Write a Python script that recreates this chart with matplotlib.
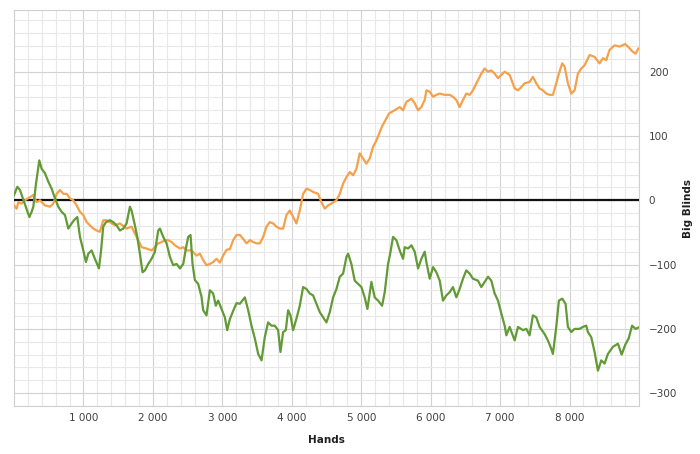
import matplotlib
matplotlib.use("Agg")
import matplotlib.pyplot as plt
from matplotlib.ticker import MultipleLocator, FixedLocator, FuncFormatter

# hands / big blinds
green_hands = [0, 48, 86, 144, 221, 254, 278, 317, 364, 398, 446, 494, 542, 590, 638, 686, 734, 782, 830, 863,
               911, 950, 998, 1036, 1070, 1117, 1165, 1223, 1252, 1285, 1324, 1381, 1429, 1477, 1525, 1573, 1621,
               1669, 1693, 1741, 1775, 1813, 1851, 1885, 1933, 1981, 2029, 2077, 2101, 2149, 2197, 2245, 2293,
               2341, 2389, 2437, 2470, 2508, 2542, 2571, 2604, 2652, 2700, 2724, 2772, 2820, 2868, 2906, 2940,
               2988, 3036, 3070, 3108, 3156, 3204, 3252, 3324, 3372, 3420, 3468, 3516, 3564, 3611, 3659, 3707,
               3755, 3803, 3837, 3875, 3914, 3947, 3981, 4019, 4067, 4115, 4163, 4211, 4259, 4307, 4355, 4403,
               4451, 4499, 4547, 4595, 4643, 4691, 4739, 4787, 4811, 4858, 4906, 4954, 5002, 5050, 5089, 5146,
               5194, 5242, 5300, 5338, 5386, 5420, 5458, 5506, 5554, 5602, 5626, 5674, 5722, 5770, 5818, 5866,
               5914, 5938, 5986, 6034, 6082, 6130, 6177, 6225, 6273, 6321, 6369, 6417, 6465, 6513, 6561, 6609,
               6681, 6729, 6777, 6825, 6873, 6921, 6969, 7017, 7065, 7089, 7137, 7209, 7257, 7329, 7377, 7424,
               7472, 7520, 7568, 7640, 7688, 7736, 7760, 7808, 7846, 7894, 7942, 7976, 8024, 8072, 8144, 8192,
               8240, 8264, 8312, 8360, 8408, 8456, 8504, 8552, 8624, 8696, 8750, 8800, 8850, 8900, 8950, 8990]
green_bb = [8, 21, 16, -2, -26, -18, -10, 26, 62, 49, 42, 29, 18, 3, -10, -18, -23, -44, -36, -31,
            -26, -57, -78, -96, -83, -78, -91, -106, -80, -41, -34, -31, -34, -39, -47, -44, -36,
            -10, -16, -39, -57, -83, -112, -109, -99, -91, -80, -47, -44, -57, -67, -88, -101,
            -99, -106, -99, -78, -57, -54, -99, -124, -130, -150, -171, -179, -140, -145, -164, -156,
            -169, -182, -202, -185, -172, -160, -161, -151, -171, -195, -215, -239, -249, -213, -190, -195,
            -195, -202, -236, -205, -202, -171, -179, -202, -184, -164, -135, -138, -145, -148, -161, -174,
            -182, -190, -174, -151, -138, -119, -114, -88, -83, -99, -125, -130, -135, -151, -169, -127,
            -151, -156, -164, -143, -99, -81, -57, -62, -78, -91, -73, -75, -70, -80, -106, -91,
            -80, -96, -122, -104, -112, -125, -156, -148, -143, -135, -151, -138, -122, -109, -114, -122,
            -125, -135, -127, -119, -125, -145, -156, -176, -195, -210, -197, -218, -197, -202, -200, -210,
            -179, -182, -197, -208, -218, -231, -239, -197, -156, -153, -161, -197, -205, -200, -200, -197,
            -195, -205, -213, -236, -265, -249, -254, -239, -228, -223, -240, -225, -215, -195, -200, -198]

orange_hands = [0, 38, 62, 110, 158, 230, 278, 326, 374, 446, 518, 566, 614, 662, 710, 758, 806, 854, 902,
                950, 998, 1046, 1094, 1141, 1189, 1237, 1285, 1333, 1381, 1453, 1525, 1621, 1693, 1741, 1789,
                1837, 1909, 1981, 2029, 2077, 2125, 2173, 2221, 2269, 2317, 2389, 2437, 2485, 2557, 2629, 2676,
                2724, 2772, 2820, 2868, 2916, 2964, 3012, 3060, 3108, 3156, 3204, 3252, 3300, 3348, 3396, 3444,
                3492, 3540, 3588, 3636, 3683, 3731, 3779, 3827, 3875, 3923, 3971, 4019, 4067, 4115, 4163, 4211,
                4259, 4307, 4379, 4427, 4475, 4523, 4571, 4643, 4691, 4739, 4787, 4835, 4883, 4931, 4978, 5026,
                5074, 5122, 5170, 5218, 5300, 5400, 5480, 5554, 5602, 5650, 5722, 5770, 5818, 5866, 5914, 5938,
                5986, 6034, 6082, 6130, 6201, 6273, 6321, 6369, 6417, 6465, 6513, 6561, 6609, 6681, 6729, 6777,
                6825, 6873, 6921, 6969, 7017, 7065, 7137, 7209, 7257, 7305, 7353, 7424, 7472, 7520, 7568, 7616,
                7664, 7712, 7760, 7808, 7846, 7894, 7928, 7976, 8024, 8072, 8120, 8168, 8216, 8288, 8360, 8432,
                8480, 8528, 8576, 8648, 8720, 8800, 8850, 8900, 8950, 8990]
orange_bb = [-8, -13, -3, -5, 0, 5, 8, -3, 0, -8, -10, -5, 10, 16, 10, 10, 3, 0, -8,
             -18, -23, -34, -39, -44, -47, -49, -31, -31, -34, -39, -36, -44, -41, -52, -62,
             -73, -75, -78, -73, -67, -65, -62, -62, -65, -70, -75, -73, -78, -78, -86, -83,
             -93, -101, -99, -96, -91, -97, -86, -77, -76, -62, -54, -54, -60, -67, -62, -65,
             -67, -67, -57, -41, -34, -36, -41, -44, -44, -23, -16, -26, -36, -16, 10, 18,
             16, 13, 10, -3, -13, -8, -5, 0, 10, 26, 36, 44, 39, 49, 73, 65,
             57, 65, 83, 93, 115, 135, 140, 145, 140, 153, 158, 151, 140, 145, 156, 171,
             169, 161, 164, 166, 164, 164, 161, 156, 145, 156, 166, 164, 171, 187, 197, 205,
             200, 202, 197, 190, 195, 200, 195, 174, 171, 176, 182, 184, 192, 182, 174, 171,
             166, 164, 164, 182, 197, 213, 208, 182, 166, 171, 197, 205, 210, 226, 223, 213,
             221, 218, 234, 241, 239, 243, 238, 232, 228, 236]

x_ticks = [1000, 2000, 3000, 4000, 5000, 6000, 7000, 8000]
y_ticks = [-300, -200, -100, 0, 100, 200]

fig = plt.figure(figsize=(7, 4.54), dpi=100)
ax = fig.add_axes([0.02, 0.1057, 0.8929, 0.8723])

ax.set_xlim(0, 9000)
ax.set_ylim(-320, 296)

ax.xaxis.set_minor_locator(MultipleLocator(200))
ax.yaxis.set_minor_locator(MultipleLocator(20))
ax.xaxis.set_major_locator(FixedLocator(x_ticks))
ax.yaxis.set_major_locator(FixedLocator(y_ticks))
ax.grid(which='minor', color='#e8e8e8', lw=0.8)
ax.grid(which='major', color='#d2d2d2', lw=0.8)
ax.set_axisbelow(True)

ax.xaxis.set_major_formatter(FuncFormatter(lambda v, p: f"{int(v):,}".replace(",", " ")))
ax.yaxis.tick_right()
ax.yaxis.set_label_position('right')
ax.tick_params(which='both', length=0, labelsize=7.5, labelcolor='#404040')
ax.tick_params(axis='y', pad=7)
ax.tick_params(axis='x', pad=5)

for s in ax.spines.values():
    s.set_color('#cfcfcf')
    s.set_linewidth(0.8)

ax.axhline(0, color='#111111', lw=1.6, zorder=3)
ax.plot(orange_hands, orange_bb, color='#f5a04a', lw=1.6, zorder=4)
ax.plot(green_hands, green_bb, color='#629a35', lw=1.6, zorder=4)

ax.set_xlabel('Hands', fontsize=7.5, fontweight='bold', color='#202020', labelpad=9)
ax.set_ylabel('Big Blinds', fontsize=7.5, fontweight='bold', color='#202020', labelpad=4)

fig.savefig('out.png', dpi=100)
